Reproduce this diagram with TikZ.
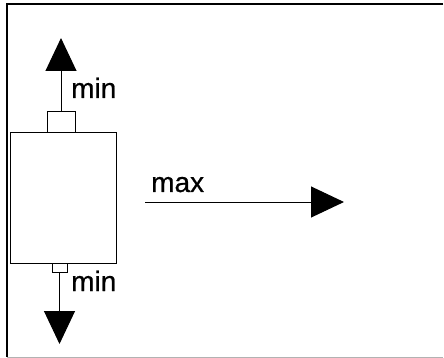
\documentclass[tikz,border=0pt]{standalone}
\usepackage{fontspec}
\setmainfont{Liberation Sans}
\newfontfamily\lblfont[FakeBold=0.6]{Liberation Sans}
\usetikzlibrary{arrows.meta,positioning}
\tikzset{
	box/.style={draw, line width=1pt, inner sep=0pt, outer sep=0pt},
	bigarrow/.style={line width=1pt, -{Triangle[length=33pt, width=31pt]}},
	lbl/.style={anchor=base west, inner sep=0pt, font=\lblfont\fontsize{28}{32}\selectfont}
}
\begin{document}
\begin{tikzpicture}[x=1pt, y=1pt]
	\useasboundingbox (0, 0) rectangle (444, -358);
	\draw[line width=1.6pt] (443, -4) -- (7, -4) -- (7, -357);
	\draw[gray!60, line width=0.8pt] (7, -357) -- (443, -357);

	\node[box, minimum width=106pt, minimum height=130pt] (body) at (63, -198) {};
	\node[box, minimum width=28pt, minimum height=21pt, above=0pt of body, xshift=-2pt] (topCap) {};
	\node[box, minimum width=15pt, minimum height=9pt, below=0pt of body, xshift=-3.5pt] (botCap) {};

	\coordinate[above=74pt of topCap.north] (upTip);
	\coordinate[below=72pt of botCap.south] (downTip);
	\coordinate (maxStart) at (145, -202);
	\coordinate (maxTip) at (344, -202);

	\draw[bigarrow] (topCap.north) -- (upTip);
	\draw[bigarrow] (botCap.south) -- (downTip);
	\draw[bigarrow] (maxStart) -- (maxTip);

	\node[lbl] (minTop) at (71, -98) {min};
	\node[lbl] (minBot) at (71, -291) {min};
	\node[lbl] (maxLbl) at (151, -192) {max};
\end{tikzpicture}
\end{document}
